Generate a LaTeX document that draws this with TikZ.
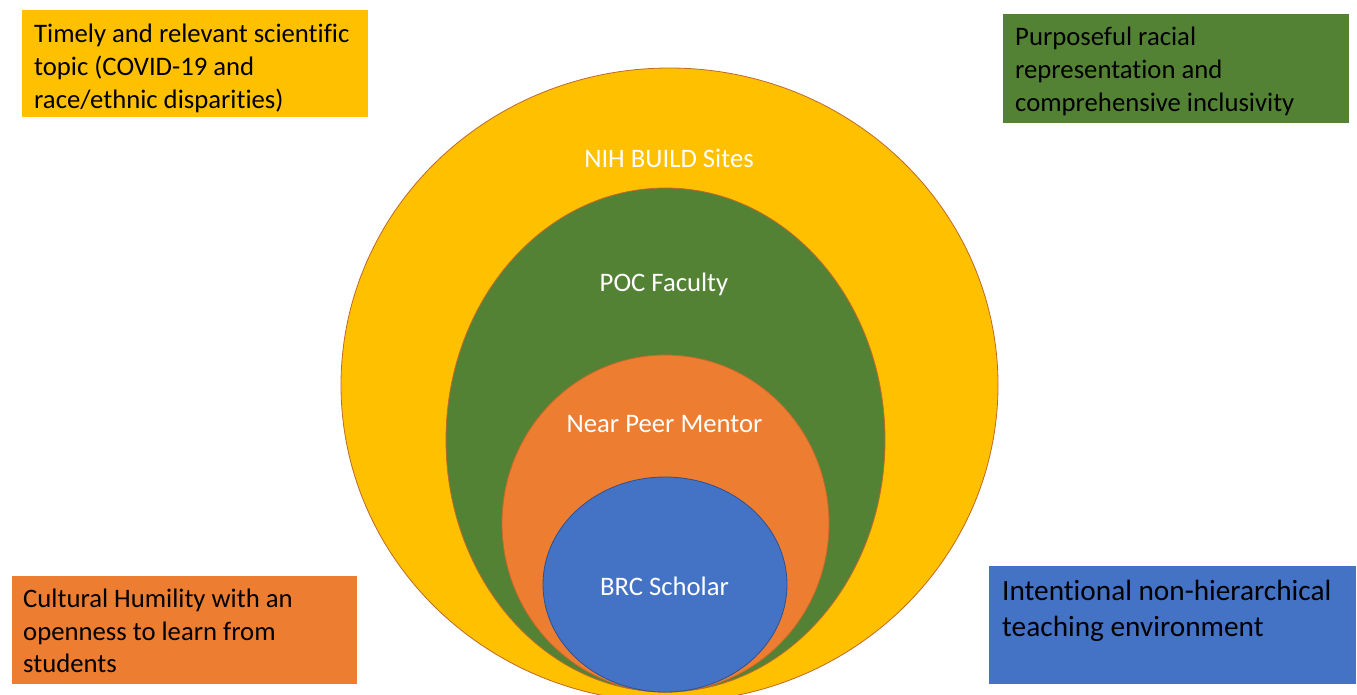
\documentclass[tikz,border=0pt]{standalone}
\usepackage{fontspec}
\setmainfont{Carlito}[RawFeature={-liga;-clig;-dlig}]
\definecolor{gold}{HTML}{FFC000}
\definecolor{leaf}{HTML}{548235}
\definecolor{tang}{HTML}{ED7D31}
\definecolor{sky}{HTML}{4472C4}
\definecolor{rim}{HTML}{C0692A}
\definecolor{bluerim}{HTML}{2F528F}
\tikzset{
  ring/.style={draw=rim, line width=0.8pt},
  ringlabel/.style={text=white, inner sep=0pt, font=\fontsize{26.7}{32.6}\selectfont},
  panel/.style={anchor=north west, inner sep=0pt, draw=none},
  paneltext/.style={anchor=north west, inner sep=0pt, align=left, text=black,
    font=\fontsize{26.7}{32.8}\selectfont},
}
\begin{document}
\begin{tikzpicture}[x=1pt,y=-1pt]
\useasboundingbox (0,0) rectangle (1357,694);

% nested ellipses, outermost first
\path[ring, fill=gold] (669.5,385) ellipse [x radius=328.5, y radius=317];
\path[ring, fill=leaf] (665.5,440) ellipse [x radius=219.5, y radius=252];
\path[ring, fill=tang] (665.5,523.5) ellipse [x radius=163.5, y radius=168.5];
\path[draw=bluerim, line width=0.8pt, fill=sky] (665,584.5) ellipse [x radius=122, y radius=107.5];

\node[ringlabel] (nih) at (669,158) {NIH BUILD Sites};
\node[ringlabel] (poc) at (664,284) {POC Faculty};
\node[ringlabel] (npm) at (664.5,424) {Near Peer Mentor};
\node[ringlabel] (brc) at (664.5,586) {BRC Scholar};

% corner panels
\node[panel, fill=gold, minimum width=346, minimum height=107] (topic) at (22,10) {};
\node[paneltext] (topictext) at (34,24) {Timely and relevant scientific\\topic (COVID-19 and\\race/ethnic disparities)};

\node[panel, fill=leaf, minimum width=346, minimum height=109] (repr) at (1003,14) {};
\node[paneltext] (reprtext) at (1015,27) {Purposeful racial\\representation and\\comprehensive inclusivity};

\node[panel, fill=tang, minimum width=345, minimum height=108] (humil) at (12,576) {};
\node[paneltext] (humiltext) at (23,588.5) {Cultural Humility with an\\openness to learn from\\students};

\node[panel, fill=sky, minimum width=367, minimum height=118] (teach) at (989,566) {};
\node[paneltext, font=\fontsize{29.3}{35.5}\selectfont] (teachtext) at (1002,580) {Intentional non-hierarchical\\teaching environment};
\end{tikzpicture}
\end{document}
